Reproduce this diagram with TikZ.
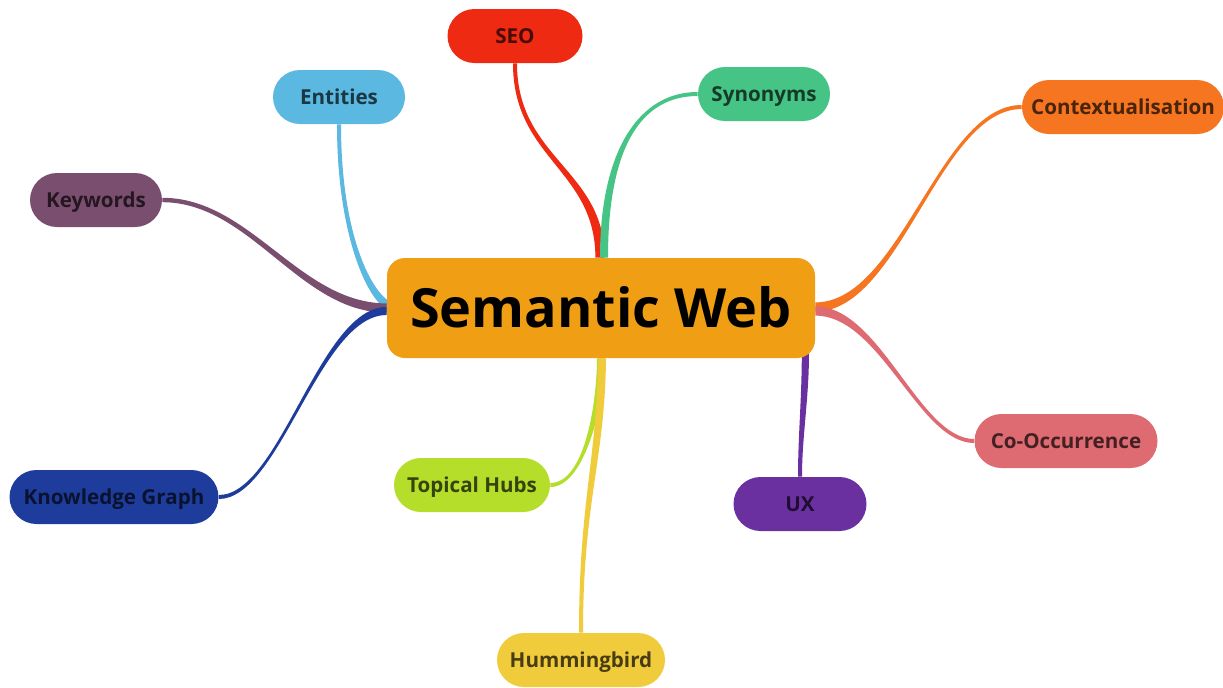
\documentclass[tikz,border=0pt]{standalone}
\usepackage{fontspec}
\setmainfont{Open Sans}
\usetikzlibrary{calc}
\pgfdeclarelayer{bg}
\pgfsetlayers{bg,main}

\definecolor{cCore}{HTML}{F09E14}
\definecolor{cSEO}{HTML}{EE2A12}
\definecolor{cEnt}{HTML}{5BB8E0}
\definecolor{cSyn}{HTML}{45C486}
\definecolor{cCtx}{HTML}{F57520}
\definecolor{cKw}{HTML}{7A4E6E}
\definecolor{cKg}{HTML}{1E3C9C}
\definecolor{cTh}{HTML}{B5DE2A}
\definecolor{cHb}{HTML}{F0CC3C}
\definecolor{cUx}{HTML}{6A30A0}
\definecolor{cCo}{HTML}{DE6A72}

\tikzset{
  core/.style={fill=cCore, rounded corners=9pt, minimum width=214pt,
    minimum height=50pt, inner sep=0pt, text=black,
    text height=19.3pt, text depth=0pt,
    font=\fontsize{27}{30}\selectfont\bfseries},
  leaf/.style={fill=#1, rounded corners=13.5pt, minimum height=27pt,
    inner xsep=0pt, inner ysep=0pt, text=#1!30!black,
    text height=7.3pt, text depth=0pt,
    font=\fontsize{10.3}{12}\selectfont\bfseries}
}

% tapered branch: colour, start, control 1, control 2, end, half width at start, half width at end
\newcommand\branch[7]{%
  \path (#2) coordinate (bA) (#3) coordinate (bC) (#4) coordinate (bD) (#5) coordinate (bB);
  \path ($(bA)!#6!90:(bC)$) coordinate (bA1) ($(bA)!#6!-90:(bC)$) coordinate (bA2)
        ($(bB)!#7!-90:(bD)$) coordinate (bB1) ($(bB)!#7!90:(bD)$) coordinate (bB2);
  \fill[#1] (bA1) .. controls ($(bC)+(bA1)-(bA)$) and ($(bD)+(bB1)-(bB)$) .. (bB1)
     -- (bB2) .. controls ($(bD)+(bB2)-(bB)$) and ($(bC)+(bA2)-(bA)$) .. (bA2) -- cycle;
}

\begin{document}
\begin{tikzpicture}[x=0.5pt, y=-0.5pt]
\useasboundingbox (0,0) rectangle (1223,687);

\node[core] (core) at (601,308) {Semantic Web};
\node[leaf=cSEO, minimum width=67.5pt] (seo) at (515,36) {SEO};
\node[leaf=cEnt, minimum width=66pt] (ent) at (339,97) {Entities};
\node[leaf=cSyn, minimum width=66pt] (syn) at (764,94) {Synonyms};
\node[leaf=cCtx, minimum width=101pt] (ctx) at (1123,107) {Contextualisation};
\node[leaf=cKw, minimum width=66pt] (kw) at (96,200) {Keywords};
\node[leaf=cKg, minimum width=104.5pt] (kg) at (114,497) {Knowledge Graph};
\node[leaf=cTh, minimum width=78pt] (th) at (472,485) {Topical Hubs};
\node[leaf=cHb, minimum width=84pt] (hb) at (581,660) {Hummingbird};
\node[leaf=cUx, minimum width=66.5pt] (ux) at (800,504) {UX};
\node[leaf=cCo, minimum width=91.5pt] (co) at (1066,441) {Co-Occurrence};

\begin{pgfonlayer}{bg}
\fill[white] (0,0) rectangle (1223,687);
\branch{cSEO}{seo.south}{$(seo.south)+(0,95)$}{$(core.north)+(-1,-88)$}{$(core.north)+(-1,0)$}{1pt}{2.3pt}
\branch{cSyn}{syn.west}{$(syn.west)+(-58,0)$}{$(core.north)+(3,-108)$}{$(core.north)+(3,0)$}{1pt}{2pt}
\branch{cEnt}{ent.south}{$(ent.south)+(0,107)$}{$(core.west)+(-19,-15)$}{$(core.west)+(1,-3)$}{1pt}{2pt}
\branch{cKw}{kw.east}{$(kw.east)+(88,0)$}{$(core.west)+(-87,0)$}{core.west}{1.1pt}{2.3pt}
\branch{cKg}{kg.east}{$(kg.east)+(61,0)$}{$(core.west)+(-67,3)$}{$(core.west)+(0,3)$}{1pt}{2pt}
\branch{cTh}{th.east}{$(th.east)+(35,0)$}{$(core.south)+(0,42)$}{core.south}{1pt}{2pt}
\branch{cHb}{hb.north}{$(hb.north)+(0,-132)$}{$(core.south)+(0,102)$}{$(core.south)+(1,0)$}{1pt}{2pt}
\branch{cUx}{ux.north}{$(ux.north)+(0,-40)$}{$(core.south east)+(-10,40)$}{$(core.south east)+(-10,-5)$}{1pt}{1.8pt}
\branch{cCtx}{ctx.west}{$(ctx.west)+(-82,0)$}{$(core.east)+(85,-1)$}{$(core.east)+(0,-1)$}{1pt}{2.3pt}
\branch{cCo}{co.west}{$(co.west)+(-55,0)$}{$(core.east)+(65,3)$}{$(core.east)+(0,3)$}{1pt}{2.3pt}
\end{pgfonlayer}
\end{tikzpicture}
\end{document}
